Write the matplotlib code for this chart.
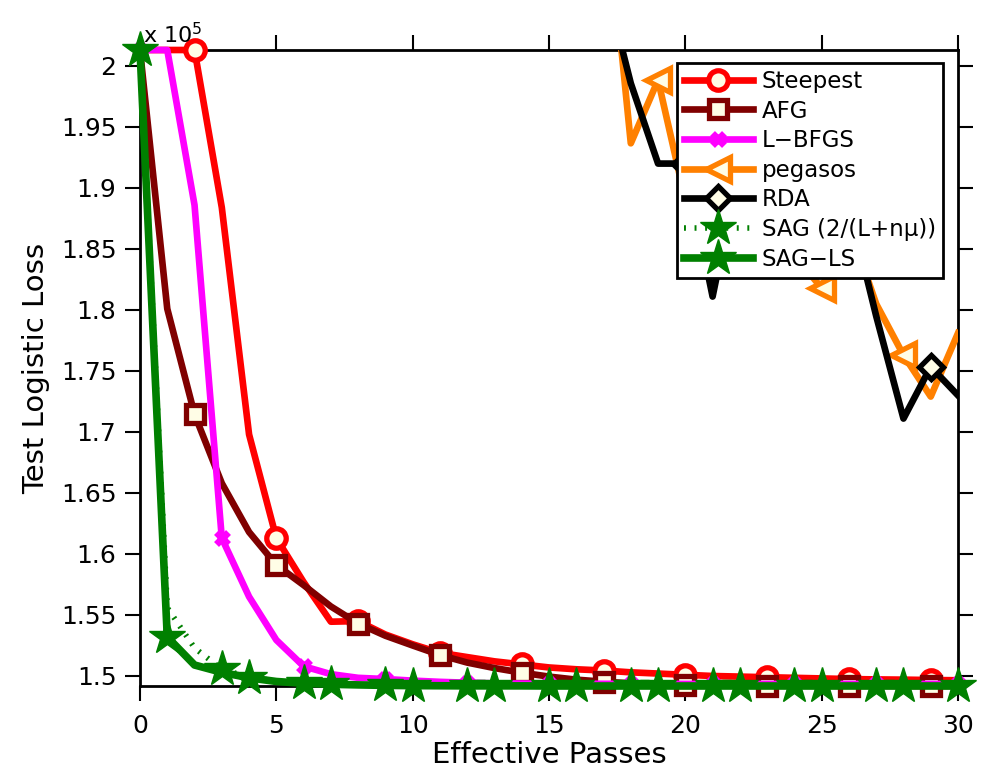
import numpy as np
import matplotlib
matplotlib.use("Agg")
import matplotlib.pyplot as plt
from matplotlib.ticker import FuncFormatter, MultipleLocator

# Test logistic loss (units of 1e5) after each effective pass
passes = list(range(31))

steepest = [2.0131, 2.0131, 2.0131, 1.884, 1.698, 1.613, 1.577, 1.5445, 1.545, 1.534,
            1.526, 1.519, 1.5155, 1.512, 1.5095, 1.507, 1.5055, 1.5045, 1.503, 1.502,
            1.501, 1.500, 1.4995, 1.499, 1.4985, 1.498, 1.4975, 1.4972, 1.497, 1.4967,
            1.4965]
afg = [2.0131, 1.801, 1.7145, 1.658, 1.618, 1.591, 1.5745, 1.557, 1.543, 1.533,
       1.525, 1.5172, 1.511, 1.5065, 1.5027, 1.4995, 1.497, 1.4953, 1.494, 1.4932,
       1.4926, 1.4924, 1.4922, 1.4921, 1.492, 1.492, 1.4919, 1.4919, 1.4918, 1.4918,
       1.4918]
lbfgs = [2.0131, 2.0131, 1.886, 1.613, 1.565, 1.5295, 1.508, 1.5015, 1.4985, 1.4975,
         1.4962, 1.4952, 1.4945, 1.494, 1.4938, 1.4937, 1.4937, 1.4936, 1.4936, 1.4936,
         1.4935, 1.4935, 1.4935, 1.4935, 1.4935, 1.4935, 1.4935, 1.4935, 1.4935, 1.4935,
         1.4935]
pegasos = [6.93, 4.12, 3.41, 3.02, 2.78, 2.62, 2.51, 2.42, 2.36, 2.31,
           2.27, 2.23, 2.21, 2.18, 2.15, 2.13, 2.11, 2.16, 1.9366, 1.9885,
           1.89, 1.86, 1.85, 1.87, 1.845, 1.818, 1.87, 1.805, 1.763, 1.729,
           1.781]
rda = [5.84, 3.77, 3.15, 2.86, 2.67, 2.55, 2.46, 2.39, 2.33, 2.28,
       2.24, 2.21, 2.18, 2.16, 2.13, 2.11, 2.10, 2.074, 1.9858, 1.920,
       1.920, 1.811, 1.92, 1.90, 1.93, 1.90, 1.886, 1.795, 1.711, 1.7535,
       1.730]
sag = [2.0131, 1.556, 1.523, 1.5055, 1.499, 1.496, 1.4945, 1.4935, 1.4928, 1.4924,
       1.4922, 1.4921, 1.492, 1.492, 1.4919, 1.4919, 1.4919, 1.4918, 1.4918, 1.4918,
       1.4918, 1.4918, 1.4918, 1.4918, 1.4918, 1.4918, 1.4918, 1.4918, 1.4918, 1.4918,
       1.4918]
sag_ls = [2.0131, 1.532, 1.509, 1.503, 1.4985, 1.4955, 1.494, 1.4932, 1.4927, 1.4923,
          1.4921, 1.492, 1.4919, 1.4919, 1.4919, 1.4918, 1.4918, 1.4918, 1.4918, 1.4918,
          1.4918, 1.4918, 1.4918, 1.4918, 1.4918, 1.4918, 1.4918, 1.4918, 1.4918, 1.4918,
          1.4918]

face = "#fffde6"

fig = plt.figure(figsize=(9.83, 7.78), dpi=100)
ax = fig.add_axes([140 / 983, 1 - 686 / 778, 818 / 983, 636 / 778])

common = dict(lw=4.8, mew=3.8, mfc=face, zorder=3)
ax.plot(passes, steepest, color="#ff0000", marker="o", ms=14, markevery=(2, 3),
        label="Steepest", clip_on=False, **common)
ax.plot(passes, afg, color="#800000", marker="s", ms=13, markevery=(2, 3),
        label="AFG", clip_on=False, **common)
ax.plot(passes, lbfgs, color="#ff00ff", marker="x", ms=8, markevery=(0, 3),
        lw=4.8, mew=5, zorder=3, label="L\u2212BFGS", clip_on=False)
ax.plot(passes, pegasos, color="#ff8000", marker="<", ms=17, markevery=(1, 3),
        label="pegasos", **common)
ax.plot(passes, rda, color="#000000", marker="D", ms=12, markevery=(2, 3),
        label="RDA", **common)
ax.plot(passes, sag, color="#008000", marker="*", ms=27, mew=1, mfc="#008000",
        markevery=(0, 3), lw=4, ls=(0, (0.35, 1.55)), dash_capstyle="butt",
        zorder=3, label="SAG (2/(L+n\u03bc))", clip_on=False)
ax.plot(passes, sag_ls, color="#008000", marker="*", ms=27, mew=1, mfc="#008000",
        markevery=(1, 3), lw=5.5, zorder=3, label="SAG\u2212LS", clip_on=False)

ax.set_xlim(0, 30)
ax.set_ylim(1.4918, 2.0131)
ax.xaxis.set_major_locator(MultipleLocator(5))
ax.yaxis.set_major_locator(MultipleLocator(0.05))
ax.yaxis.set_major_formatter(FuncFormatter(lambda v, _: f"{v:g}"))
ax.tick_params(direction="out", length=11, width=1.5, top=True, right=True,
               labelsize=18)
ax.tick_params(axis="x", pad=9)
ax.tick_params(axis="y", pad=6)
for sp in ax.spines.values():
    sp.set_linewidth(2)

ax.set_xlabel("Effective Passes", fontsize=21, labelpad=2)
ax.set_ylabel("Test Logistic Loss", fontsize=21, labelpad=8)
ax.annotate("x 10$^5$", xy=(0, 1), xycoords="axes fraction", xytext=(2, 2),
            textcoords="offset points", fontsize=16, ha="left", va="bottom")

leg = ax.legend(loc="upper right", bbox_to_anchor=(943 / 983, 1 - 63 / 778),
                bbox_transform=fig.transFigure, borderaxespad=0, fontsize=16.5,
                handlelength=3.0, handletextpad=0.4, labelspacing=0.29,
                numpoints=1, fancybox=False, framealpha=1, edgecolor="black",
                borderpad=0.3)
leg.get_frame().set_linewidth(2)
leg.set_zorder(5)

fig.savefig("out.png", dpi=100)
